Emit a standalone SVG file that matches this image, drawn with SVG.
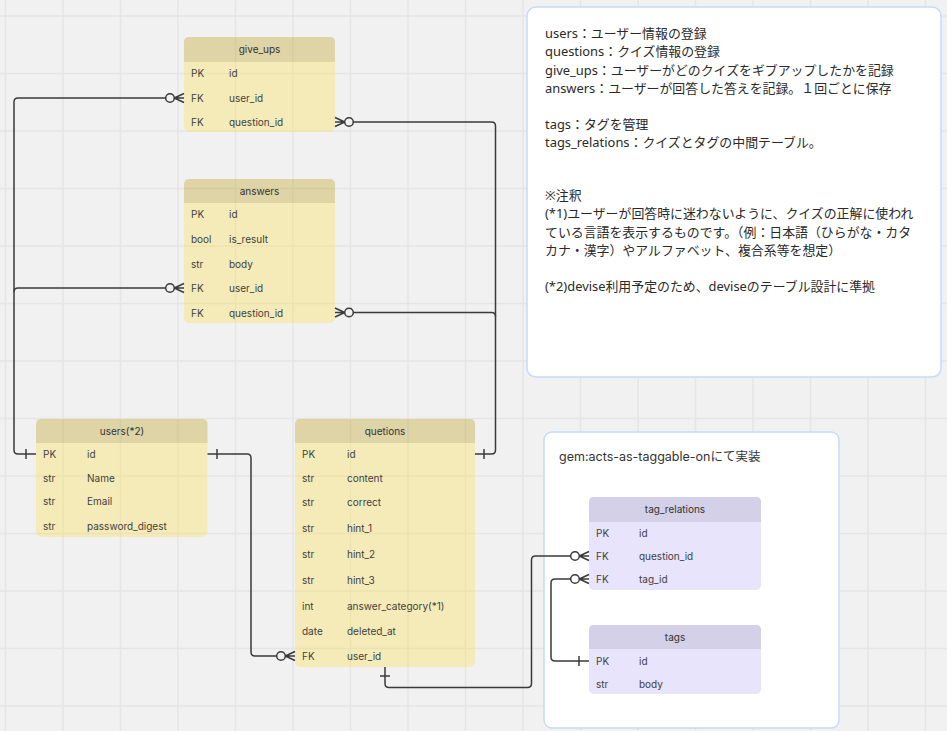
<svg xmlns="http://www.w3.org/2000/svg" width="947" height="731" viewBox="0 0 947 731">
<style>
.bg{fill:#f1f1f1}
.grid{stroke:#e5e5e5;stroke-width:1.5;fill:none}
.box{fill:#ffffff;stroke:#c6dafb;stroke-width:1.5}
.note{font-family:"Noto Sans","Noto Sans CJK JP",sans-serif;font-size:12.9px;fill:#2a2a2a}
.ybody{fill:rgb(254,221,54);fill-opacity:0.3}
.yhead{fill:#000;fill-opacity:0.095}
.pbody{fill:#e7e4fb}
.phead{fill:#d3d0e7}
.t{font-family:Inter,"Liberation Sans",sans-serif;font-size:10px;fill:#3f3f3f}
.th{font-family:Inter,"Liberation Sans",sans-serif;font-size:10px;fill:#333;text-anchor:middle}
.gem{font-family:Inter,"Noto Sans CJK JP",sans-serif;font-size:12.5px;fill:#333}
.c{fill:none;stroke:#3a3a3a;stroke-width:1.5}
.o{fill:#f1f1f1;stroke:#3a3a3a;stroke-width:1.5}
.ow{fill:#ffffff;stroke:#3a3a3a;stroke-width:1.5}
</style>
<rect class="bg" x="0" y="0" width="947" height="731"/>
<path class="grid" d="M5.5 0V731M63 0V731M120.5 0V731M178 0V731M235.5 0V731M293 0V731M350.5 0V731M408 0V731M465.5 0V731M523 0V731M580.5 0V731M638 0V731M695.5 0V731M753 0V731M810.5 0V731M868 0V731M925.5 0V731M0 16H947M0 73.5H947M0 131H947M0 188.5H947M0 246H947M0 303.5H947M0 361H947M0 418.5H947M0 476H947M0 533.5H947M0 591H947M0 648.5H947M0 706H947"/>

<g id="note">
<rect class="box" x="527" y="7" width="414" height="370" rx="9"/>
<text class="note" x="545" y="37.5">users：ユーザー情報の登録</text>
<text class="note" x="545" y="56">questions：クイズ情報の登録</text>
<text class="note" x="545" y="74.5">give_ups：ユーザーがどのクイズをギブアップしたかを記録</text>
<text class="note" x="545" y="92.5">answers：ユーザーが回答した答えを記録。１回ごとに保存</text>
<text class="note" x="545" y="128.5">tags：タグを管理</text>
<text class="note" x="545" y="146.5">tags_relations：クイズとタグの中間テーブル。</text>
<text class="note" x="545" y="199.5">※注釈</text>
<text class="note" x="545" y="218">(*1)ユーザーが回答時に迷わないように、クイズの正解に使われ</text>
<text class="note" x="545" y="236.5">ている言語を表示するものです。（例：日本語（ひらがな・カタ</text>
<text class="note" x="545" y="254.5">カナ・漢字）やアルファベット、複合系等を想定）</text>
<text class="note" x="545" y="290.5">(*2)devise利用予定のため、deviseのテーブル設計に準拠</text>
</g>

<g id="gem-box">
<rect class="box" x="544" y="432" width="295" height="296" rx="8"/>
<text class="gem" x="559" y="461">gem:acts-as-taggable-onにて実装</text>
</g>

<g id="give_ups">
<rect class="ybody" x="184" y="37" width="151" height="95" rx="5"/>
<path class="yhead" d="M184 62V42Q184 37 189 37H330Q335 37 335 42V62Z"/>
<text class="th" x="259.5" y="53">give_ups</text>
<text class="t" x="191" y="77">PK</text><text class="t" x="229" y="77">id</text>
<text class="t" x="191" y="101.5">FK</text><text class="t" x="229" y="101.5">user_id</text>
<text class="t" x="191" y="126">FK</text><text class="t" x="229" y="126">question_id</text>
</g>

<g id="answers">
<rect class="ybody" x="184" y="179" width="151" height="144" rx="5"/>
<path class="yhead" d="M184 203V184Q184 179 189 179H330Q335 179 335 184V203Z"/>
<text class="th" x="259.5" y="194.5">answers</text>
<text class="t" x="191" y="217.5">PK</text><text class="t" x="229" y="217.5">id</text>
<text class="t" x="191" y="242.5">bool</text><text class="t" x="229" y="242.5">is_result</text>
<text class="t" x="191" y="267.5">str</text><text class="t" x="229" y="267.5">body</text>
<text class="t" x="191" y="291.5">FK</text><text class="t" x="229" y="291.5">user_id</text>
<text class="t" x="191" y="316.5">FK</text><text class="t" x="229" y="316.5">question_id</text>
</g>

<g id="users">
<rect class="ybody" x="36" y="419" width="171.5" height="118" rx="5"/>
<path class="yhead" d="M36 443V424Q36 419 41 419H202.5Q207.5 419 207.5 424V443Z"/>
<text class="th" x="122" y="434.5">users(*2)</text>
<text class="t" x="43" y="457.5">PK</text><text class="t" x="87" y="457.5">id</text>
<text class="t" x="43" y="481.5">str</text><text class="t" x="87" y="481.5">Name</text>
<text class="t" x="43" y="505">str</text><text class="t" x="87" y="505">Email</text>
<text class="t" x="43" y="529.5">str</text><text class="t" x="87" y="529.5">password_digest</text>
</g>

<g id="questions">
<rect class="ybody" x="295" y="419" width="180" height="248" rx="5"/>
<path class="yhead" d="M295 443V424Q295 419 300 419H470Q475 419 475 424V443Z"/>
<text class="th" x="385" y="434.5">quetions</text>
<text class="t" x="302" y="457.5">PK</text><text class="t" x="347" y="457.5">id</text>
<text class="t" x="302" y="481.5">str</text><text class="t" x="347" y="481.5">content</text>
<text class="t" x="302" y="505.5">str</text><text class="t" x="347" y="505.5">correct</text>
<text class="t" x="302" y="531.5">str</text><text class="t" x="347" y="531.5">hint_1</text>
<text class="t" x="302" y="557.5">str</text><text class="t" x="347" y="557.5">hint_2</text>
<text class="t" x="302" y="583.5">str</text><text class="t" x="347" y="583.5">hint_3</text>
<text class="t" x="302" y="609.5">int</text><text class="t" x="347" y="609.5">answer_category(*1)</text>
<text class="t" x="302" y="634.5">date</text><text class="t" x="347" y="634.5">deleted_at</text>
<text class="t" x="302" y="659.5">FK</text><text class="t" x="347" y="659.5">user_id</text>
</g>

<g id="tag_relations">
<rect class="pbody" x="589" y="497" width="172" height="93" rx="5"/>
<path class="phead" d="M589 522V502Q589 497 594 497H756Q761 497 761 502V522Z"/>
<text class="th" x="675" y="513">tag_relations</text>
<text class="t" x="596" y="536.5">PK</text><text class="t" x="639" y="536.5">id</text>
<text class="t" x="596" y="559.5">FK</text><text class="t" x="639" y="559.5">question_id</text>
<text class="t" x="596" y="582.5">FK</text><text class="t" x="639" y="582.5">tag_id</text>
</g>

<g id="tags">
<rect class="pbody" x="589" y="625" width="172" height="69" rx="5"/>
<path class="phead" d="M589 649V630Q589 625 594 625H756Q761 625 761 630V649Z"/>
<text class="th" x="675" y="640.5">tags</text>
<text class="t" x="596" y="664.5">PK</text><text class="t" x="639" y="664.5">id</text>
<text class="t" x="596" y="687.5">str</text><text class="t" x="639" y="687.5">body</text>
</g>

<g id="connectors">
<path class="c" d="M36 454H18Q14 454 14 450V102Q14 98 18 98H165.7"/>
<path class="c" d="M14 292Q14 288 18 288H165.7"/>
<path class="c" d="M26 449V459"/>
<circle class="o" cx="170" cy="98" r="4.3"/>
<path class="c" d="M174.3 98L184 93.5M174.3 98H184M174.3 98L184 102.5"/>
<circle class="o" cx="170" cy="288" r="4.3"/>
<path class="c" d="M174.3 288L184 283.5M174.3 288H184M174.3 288L184 292.5"/>

<path class="c" d="M475 454H491.5Q495.5 454 495.5 450V126Q495.5 122 491.5 122H353.3"/>
<path class="c" d="M495.5 316.5Q495.5 312.5 491.5 312.5H353.3"/>
<path class="c" d="M484 449V459"/>
<circle class="o" cx="349" cy="122" r="4.3"/>
<path class="c" d="M344.7 122L335 117.5M344.7 122H335M344.7 122L335 126.5"/>
<circle class="o" cx="349" cy="312.5" r="4.3"/>
<path class="c" d="M344.7 312.5L335 308M344.7 312.5H335M344.7 312.5L335 317"/>

<path class="c" d="M207.5 454H247Q251 454 251 458V652Q251 656 255 656H276.7"/>
<path class="c" d="M217 449V459"/>
<circle class="o" cx="281" cy="656" r="4.3"/>
<path class="c" d="M285.3 656L295 651.5M285.3 656H295M285.3 656L295 660.5"/>

<path class="c" d="M385 667V683.5Q385 687.5 389 687.5H527.5Q531.5 687.5 531.5 683.5V560Q531.5 556 535.5 556H570.7"/>
<path class="c" d="M380 676H390"/>
<circle class="ow" cx="575" cy="556" r="4.3"/>
<path class="c" d="M579.3 556L589 551.5M579.3 556H589M579.3 556L589 560.5"/>

<path class="c" d="M589 661H555Q551 661 551 657V583Q551 579 555 579H570.7"/>
<path class="c" d="M579 656V666"/>
<circle class="ow" cx="575" cy="579" r="4.3"/>
<path class="c" d="M579.3 579L589 574.5M579.3 579H589M579.3 579L589 583.5"/>
</g>
</svg>
